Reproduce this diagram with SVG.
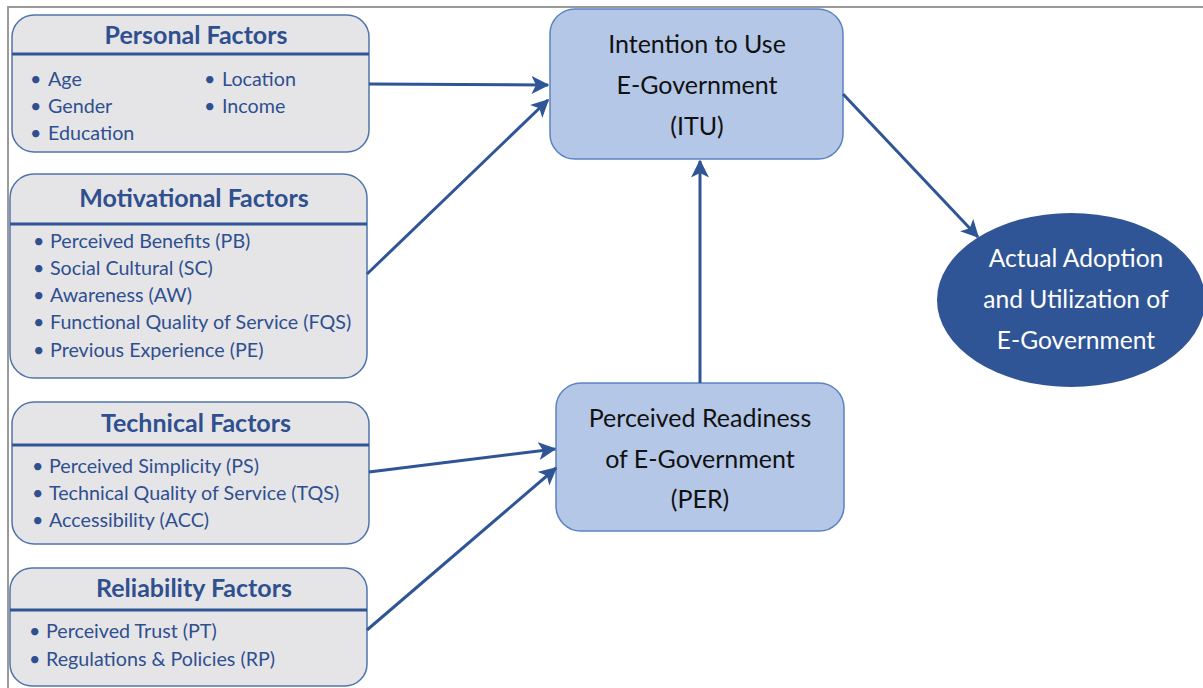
<svg xmlns="http://www.w3.org/2000/svg" width="1203" height="688" viewBox="0 0 1203 688">
<style>
.factor{fill:#e5e5e7;stroke:#4f74ad;stroke-width:1.5}
.div{stroke:#2f5597;stroke-width:3}
.title{font-family:Lato,"Liberation Sans",sans-serif;font-weight:bold;font-size:25px;fill:#2f4f8f;text-anchor:middle}
.item{font-family:Lato,"Liberation Sans",sans-serif;font-size:19.7px;fill:#2f4f8f}
.main{fill:#b4c7e7;stroke:#5b82c2;stroke-width:1.5}
.mtext{font-family:Lato,"Liberation Sans",sans-serif;font-size:25px;fill:#111;text-anchor:middle}
.etext{font-family:Lato,"Liberation Sans",sans-serif;font-size:24.6px;fill:#fff;text-anchor:middle}
.conn{stroke:#2f5597;stroke-width:3;fill:none;marker-end:url(#arr)}
</style>
<defs>
<marker id="arr" viewBox="0 0 12 12" refX="11" refY="6" markerWidth="6" markerHeight="6" orient="auto" markerUnits="strokeWidth">
<path d="M0,0 L12,6 L0,12 L3,6 Z" fill="#2f5597"/>
</marker>
</defs>
<rect width="1203" height="688" fill="#fff"/>
<path d="M8,688 V7 H1203" fill="none" stroke="#9a9a9a" stroke-width="2"/>

<g id="personal">
<rect class="factor" x="12" y="15" width="357" height="137" rx="22"/>
<line class="div" x1="12" y1="54" x2="369" y2="54"/>
<text class="title" x="196" y="44">Personal Factors</text>
<text class="item" x="30" y="86">•</text><text class="item" x="48" y="86">Age</text>
<text class="item" x="30" y="113">•</text><text class="item" x="48" y="113">Gender</text>
<text class="item" x="30" y="140">•</text><text class="item" x="48" y="140">Education</text>
<text class="item" x="204" y="86">•</text><text class="item" x="222" y="86">Location</text>
<text class="item" x="204" y="113">•</text><text class="item" x="222" y="113">Income</text>
</g>

<g id="motivational">
<rect class="factor" x="10" y="174" width="357" height="204" rx="24"/>
<line class="div" x1="10" y1="224" x2="367" y2="224"/>
<text class="title" x="194" y="207">Motivational Factors</text>
<text class="item" x="33" y="248">•</text><text class="item" x="50" y="248">Perceived Benefits (PB)</text>
<text class="item" x="33" y="275">•</text><text class="item" x="50" y="275">Social Cultural (SC)</text>
<text class="item" x="33" y="302">•</text><text class="item" x="50" y="302">Awareness (AW)</text>
<text class="item" x="33" y="329">•</text><text class="item" x="50" y="329">Functional Quality of Service (FQS)</text>
<text class="item" x="33" y="357">•</text><text class="item" x="50" y="357">Previous Experience (PE)</text>
</g>

<g id="technical">
<rect class="factor" x="12" y="402" width="357" height="142" rx="22"/>
<line class="div" x1="12" y1="445" x2="369" y2="445"/>
<text class="title" x="196" y="432">Technical Factors</text>
<text class="item" x="32" y="473">•</text><text class="item" x="49" y="473">Perceived Simplicity (PS)</text>
<text class="item" x="32" y="500">•</text><text class="item" x="49" y="500">Technical Quality of Service (TQS)</text>
<text class="item" x="32" y="527">•</text><text class="item" x="49" y="527">Accessibility (ACC)</text>
</g>

<g id="reliability">
<rect class="factor" x="10" y="568" width="357" height="118" rx="22"/>
<line class="div" x1="10" y1="610" x2="367" y2="610"/>
<text class="title" x="194" y="597">Reliability Factors</text>
<text class="item" x="29" y="638">•</text><text class="item" x="46" y="638">Perceived Trust (PT)</text>
<text class="item" x="29" y="666">•</text><text class="item" x="46" y="666">Regulations &amp; Policies (RP)</text>
</g>

<g id="itu">
<rect class="main" x="550" y="9" width="293" height="150" rx="25"/>
<text class="mtext" x="697" y="53">Intention to Use</text>
<text class="mtext" x="697" y="94">E-Government</text>
<text class="mtext" x="697" y="135">(ITU)</text>
</g>

<g id="per">
<rect class="main" x="556" y="383" width="288" height="148" rx="25"/>
<text class="mtext" x="700" y="427">Perceived Readiness</text>
<text class="mtext" x="700" y="468">of E-Government</text>
<text class="mtext" x="700" y="508">(PER)</text>
</g>

<g id="adoption">
<ellipse cx="1071" cy="300" rx="134" ry="87" fill="#2f5597"/>
<text class="etext" x="1076" y="267">Actual Adoption</text>
<text class="etext" x="1076" y="308">and Utilization of</text>
<text class="etext" x="1076" y="349">E-Government</text>
</g>

<g id="connectors">
<line class="conn" x1="369" y1="84" x2="548" y2="85"/>
<line class="conn" x1="367" y1="274" x2="548" y2="100"/>
<line class="conn" x1="843" y1="94" x2="978" y2="237"/>
<line class="conn" x1="700" y1="383" x2="700" y2="161"/>
<line class="conn" x1="369" y1="472" x2="555" y2="449"/>
<line class="conn" x1="367" y1="630" x2="556" y2="468"/>
</g>
</svg>
